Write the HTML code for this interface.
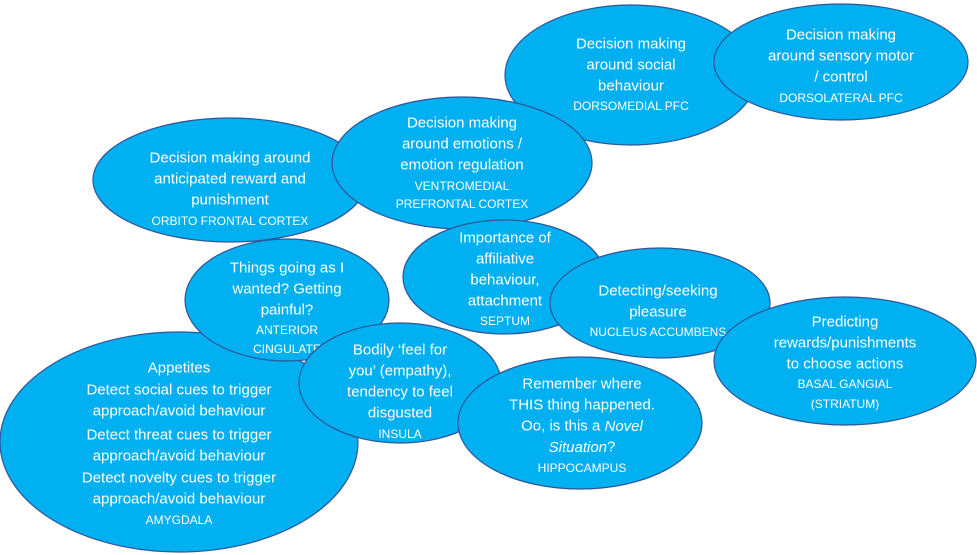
<!DOCTYPE html>
<html><head><meta charset="utf-8"><style>
html,body{margin:0;padding:0;background:#fff;}
svg{display:block;}
text{font-family:"Liberation Sans",sans-serif;fill:#fff;text-anchor:middle;dominant-baseline:central;}
.m{font-size:15px;}
.s{font-size:12px;}
ellipse{fill:#00B0F0;stroke:#2F5597;stroke-width:1.2;}
</style></head><body>
<svg width="977" height="555" viewBox="0 0 977 555">
<ellipse cx="631" cy="75" rx="126" ry="70"/>
<text class="m" x="631" y="44">Decision making</text>
<text class="m" x="631" y="65">around social</text>
<text class="m" x="631" y="86">behaviour</text>
<text class="s" x="631" y="106">DORSOMEDIAL PFC</text>

<ellipse cx="841" cy="62" rx="127" ry="58"/>
<text class="m" x="841" y="35">Decision making</text>
<text class="m" x="841" y="56">around sensory motor</text>
<text class="m" x="841" y="77">/ control</text>
<text class="s" x="841" y="98">DORSOLATERAL PFC</text>

<ellipse cx="230" cy="180" rx="137" ry="62"/>
<text class="m" x="230" y="158">Decision making around</text>
<text class="m" x="230" y="179">anticipated reward and</text>
<text class="m" x="230" y="200">punishment</text>
<text class="s" x="230" y="221">ORBITO FRONTAL CORTEX</text>

<ellipse cx="462" cy="163" rx="130" ry="66"/>
<text class="m" x="462" y="123">Decision making</text>
<text class="m" x="462" y="144">around emotions /</text>
<text class="m" x="462" y="165">emotion regulation</text>
<text class="s" x="462" y="186">VENTROMEDIAL</text>
<text class="s" x="462" y="204">PREFRONTAL CORTEX</text>

<ellipse cx="179" cy="442" rx="179" ry="110"/>

<ellipse cx="287" cy="300" rx="102" ry="61"/>
<text class="m" x="287" y="268">Things going as I</text>
<text class="m" x="287" y="289">wanted? Getting</text>
<text class="m" x="287" y="310">painful?</text>
<text class="s" x="287" y="330">ANTERIOR</text>
<text class="s" x="287" y="349">CINGULATE</text>

<text class="m" x="179" y="368">Appetites</text>
<text class="m" x="179" y="390">Detect social cues to trigger</text>
<text class="m" x="179" y="411">approach/avoid behaviour</text>
<text class="m" x="179" y="435">Detect threat cues to trigger</text>
<text class="m" x="179" y="456">approach/avoid behaviour</text>
<text class="m" x="179" y="478">Detect novelty cues to trigger</text>
<text class="m" x="179" y="499">approach/avoid behaviour</text>
<text class="s" x="179" y="520">AMYGDALA</text>

<ellipse cx="504" cy="277" rx="101" ry="57"/>
<text class="m" x="505" y="238">Importance of</text>
<text class="m" x="505" y="259">affiliative</text>
<text class="m" x="505" y="280">behaviour,</text>
<text class="m" x="505" y="301">attachment</text>
<text class="s" x="505" y="321">SEPTUM</text>

<ellipse cx="660" cy="303" rx="110" ry="55"/>
<text class="m" x="658" y="291">Detecting/seeking</text>
<text class="m" x="658" y="312">pleasure</text>
<text class="s" x="658" y="332">NUCLEUS ACCUMBENS</text>

<ellipse cx="845" cy="361" rx="131" ry="64"/>
<text class="m" x="845" y="322">Predicting</text>
<text class="m" x="845" y="343">rewards/punishments</text>
<text class="m" x="845" y="364">to choose actions</text>
<text class="s" x="845" y="384">BASAL GANGIAL</text>
<text class="s" x="845" y="404">(STRIATUM)</text>

<ellipse cx="400" cy="383" rx="101" ry="60"/>
<text class="m" x="400" y="350">Bodily ‘feel for</text>
<text class="m" x="400" y="371">you’ (empathy),</text>
<text class="m" x="400" y="392">tendency to feel</text>
<text class="m" x="400" y="413">disgusted</text>
<text class="s" x="400" y="434">INSULA</text>

<ellipse cx="580" cy="423" rx="122" ry="66"/>
<text class="m" x="582" y="384">Remember where</text>
<text class="m" x="582" y="405">THIS thing happened.</text>
<text class="m" x="582" y="426">Oo, is this a <tspan font-style="italic">Novel</tspan></text>
<text class="m" x="582" y="447"><tspan font-style="italic">Situation</tspan>?</text>
<text class="s" x="582" y="468">HIPPOCAMPUS</text>
</svg>
</body></html>
